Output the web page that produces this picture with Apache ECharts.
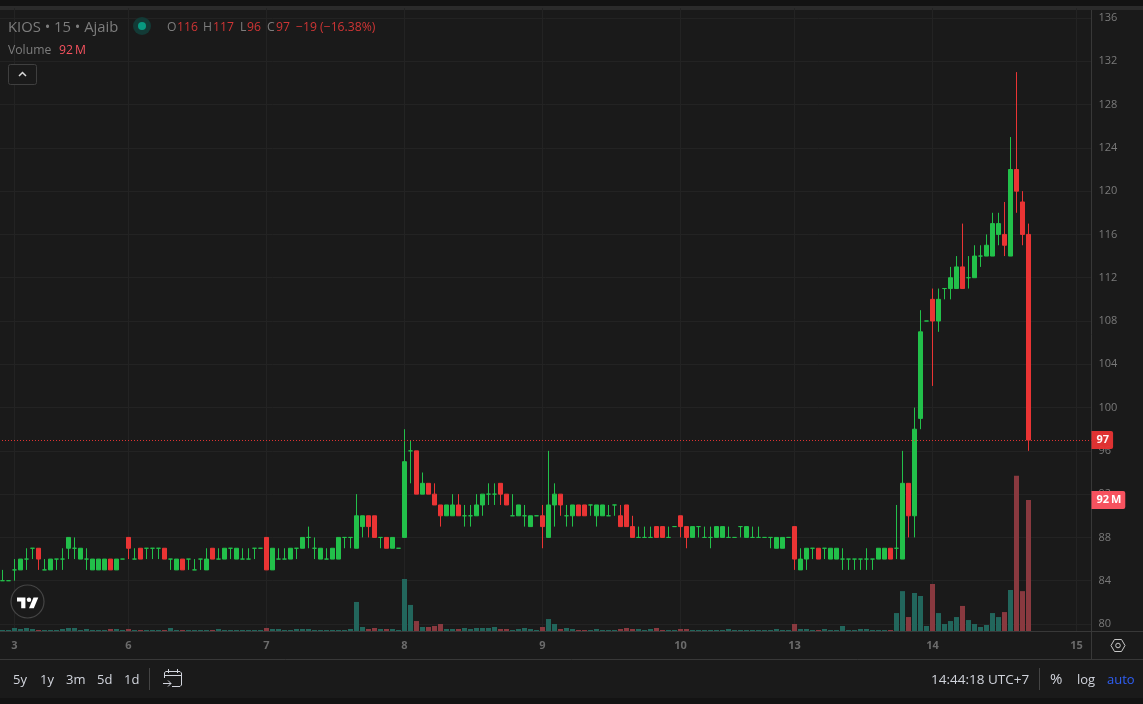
<!DOCTYPE html>
<html>
<head>
<meta charset="utf-8">
<title>KIOS 15m</title>
<style>
  html, body { margin: 0; padding: 0; background: #1a1a1a; }
  #chart { width: 1143px; height: 704px; }
</style>
<script src="https://cdn.jsdelivr.net/npm/echarts@6/dist/echarts.min.js"></script>
</head>
<body>
<div id="chart"></div>
<script>
// 15-minute bars, oldest first, ten per row
const opens = [
  84,84,85,85,86,87,87,85,85,86,
  86,87,87,86,86,85,85,85,86,85,
  86,88,86,87,87,87,87,87,86,85,
  86,86,85,86,85,87,86,86,87,86,
  86,86,87,87,88,85,86,86,86,87,
  87,88,87,86,86,86,86,88,88,87,
  89,90,90,88,88,87,87,88,96,96,
  92,93,92,91,90,90,91,90,90,90,
  91,92,92,93,92,90,90,90,89,90,
  90,88,91,92,90,90,91,91,91,90,
  90,90,91,90,91,89,88,88,88,89,
  89,88,89,90,89,88,89,88,88,88,
  88,88,88,89,88,88,88,88,88,87,
  87,88,89,85,86,87,87,87,86,86,
  86,86,86,86,86,86,86,86,87,87,
  86,93,90,99,108,110,108,111,111,111,
  113,112,112,114,114,114,116,116,114,122,119,116
];
const highs = [
  85,84,86,86,87,87,87,86,86,86,
  87,88,88,87,87,86,86,86,86,86,
  86,88,87,87,87,87,87,87,86,86,
  86,86,86,86,87,87,87,87,87,87,
  87,87,87,87,88,87,87,87,87,87,
  88,89,88,87,87,87,88,88,88,92,
  90,90,90,88,88,88,87,98,97,96,
  94,93,93,91,91,92,92,91,91,92,
  92,93,93,93,92,92,91,91,90,90,
  91,96,93,92,91,91,91,91,91,91,
  91,91,91,91,91,90,89,89,89,89,
  89,89,89,90,89,89,89,89,89,89,
  89,89,88,89,89,89,89,88,88,88,
  88,88,89,87,87,87,87,87,87,87,
  87,86,86,86,87,86,87,87,87,91,
  96,93,100,109,108,111,111,111,113,114,
  117,114,115,115,116,118,118,119,125,131,120,117
];
const lows = [
  84,84,84,85,85,86,85,85,85,85,
  85,86,86,86,85,85,85,85,85,85,
  86,86,86,86,86,86,86,86,85,85,
  85,85,85,85,85,86,86,86,86,86,
  86,86,86,87,85,85,86,86,86,86,
  87,87,86,86,86,86,86,87,87,87,
  88,88,88,87,87,87,87,88,93,92,
  92,92,91,89,90,90,90,89,89,90,
  90,91,91,91,91,90,90,89,89,90,
  87,88,89,90,89,89,90,90,90,89,
  90,90,90,89,89,88,88,88,88,88,
  88,88,89,88,87,88,88,88,87,88,
  88,88,88,88,88,88,88,88,87,87,
  87,88,85,85,85,86,86,86,86,86,
  85,85,85,85,85,85,86,86,86,86,
  86,88,88,98,108,102,107,110,110,111,
  111,111,112,113,114,114,115,114,114,118,115,96
];
const closes = [
  84,84,85,86,86,87,86,85,86,86,
  86,88,87,87,86,86,86,86,85,86,
  86,87,86,86,87,87,87,86,86,86,
  85,86,85,86,86,86,86,87,87,87,
  86,86,87,87,85,87,86,86,87,87,
  88,88,87,87,86,87,88,88,88,90,
  90,89,88,88,87,88,87,95,96,92,
  93,92,91,90,91,91,90,90,90,91,
  92,92,92,92,91,90,91,90,90,90,
  89,91,92,91,90,91,90,90,91,91,
  91,90,91,89,89,88,88,88,88,88,
  88,88,89,89,88,89,89,88,88,89,
  89,88,88,89,89,88,88,88,88,88,
  88,88,86,86,87,87,86,87,87,87,
  86,86,86,86,86,86,87,87,86,87,
  93,90,98,107,108,108,110,111,112,113,
  111,112,114,114,115,117,117,115,122,120,116,97
];
// Traded volume per bar, in millions
const volumes = [
  0.7,0.7,2.1,1.4,2.1,1.4,0.7,0.7,0.7,0.7,1.4,2.1,2.1,0.7,1.4,0.7,0.7,0.7,1.4,1.4,
  0.7,1.4,0.7,0.7,0.7,0.7,0.7,0.7,2.1,0.7,0.7,0.7,0.7,0.7,0.7,0.7,1.4,0.7,0.7,0.7,
  0.7,0.7,0.7,0.7,2.1,1.4,1.4,0.7,0.7,1.4,1.4,1.4,0.7,0.7,0.7,0.7,0.7,0.7,1.4,20.4,
  2.8,1.4,2.1,1.4,1.4,1.4,0.7,36.5,18.3,7,2.8,2.8,3.5,4.9,1.4,1.4,1.4,2.1,1.4,2.1,
  2.1,2.1,2.8,1.4,1.4,0.7,1.4,2.1,1.4,0.7,2.8,8.4,4.9,1.4,2.1,1.4,0.7,0.7,0.7,1.4,
  0.7,0.7,0.7,1.4,2.1,1.4,1.4,0.7,1.4,2.1,0.7,0.7,0.7,1.4,1.4,0.7,0.7,0.7,0.7,0.7,
  0.7,1.4,0.7,0.7,0.7,0.7,0.7,0.7,0.7,1.4,0.7,0.7,4.9,1.4,1.4,0.7,0.7,1.4,0.7,0.7,
  3.5,0.7,0.7,1.4,1.4,0.7,0.7,0.7,0.7,12.6,28,9.8,26.7,24.6,3.5,33,12.6,4.9,7,9.8,
  17.6,7.7,4.9,2.8,4.2,12.6,9.8,13.3,28.8,109,28,92
];
// Session marks on the time axis
const dayLabels = ['3', '6', '7', '8', '9', '10', '13', '14', '15'];
const dayLabelBars = [2, 21, 44, 67, 90, 113, 132, 155, 179];
const priceTicks = { min: 80, max: 136, step: 4 };
const lastPrice = 97;
const lastVolume = 92;
const BAR_SLOTS = 182;

const UP = '#22c04a', DOWN = '#ea3434';
const VOL_UP = '#22665c', VOL_DOWN = '#89393f';
const BG = '#1a1a1a', RULE = '#383838', GRID = '#232323';
const FONT = '"Open Sans", sans-serif';

const categories = Array.from({ length: BAR_SLOTS }, (_, i) => {
  const k = dayLabelBars.indexOf(i);
  return k >= 0 ? dayLabels[k] : '';
});
const isDayBar = (i) => dayLabelBars.indexOf(i) >= 0;

const candles = opens.map((o, i) => {
  const item = { value: [o, closes[i], lows[i], highs[i]] };
  // Bars that open and close level stay green whatever the previous close was
  if (o === closes[i]) {
    item.itemStyle = { color: UP, color0: UP, borderColor: UP, borderColor0: UP };
  }
  return item;
});
const volumeBars = volumes.map((v, i) => ({
  value: v,
  itemStyle: { color: closes[i] >= opens[i] ? VOL_UP : VOL_DOWN }
}));

const text = (x, y, s, fill, size, extra) => ({
  type: 'text', z: 20, silent: true,
  style: Object.assign({ x, y, text: s, fill, font: `${size || 12.2}px ${FONT}`, textVerticalAlign: 'middle' }, extra || {})
});
const rule = (x1, y1, x2, y2, color, width) => ({
  type: 'line', z: 1, silent: true,
  shape: { x1, y1, x2, y2 },
  style: { stroke: color || RULE, lineWidth: width || 1 }
});
const stroke = (points, color) => ({
  type: 'polyline', z: 21, silent: true,
  shape: { points },
  style: { stroke: color, lineWidth: 1, fill: null }
});
const solid = (points, color) => ({
  type: 'polygon', z: 21, silent: true,
  shape: { points },
  style: { fill: color }
});
const HEAD = '#7d7d7d', HEAD_RED = '#cf3535', BTN = '#d1d4dc';

const chrome = [
  // window strip above and below the pane
  { type: 'rect', z: 0, silent: true, shape: { x: 0, y: 0, width: 1143, height: 6 }, style: { fill: '#131313' } },
  { type: 'rect', z: 0, silent: true, shape: { x: 0, y: 6, width: 1143, height: 4 }, style: { fill: '#2b2b2b' } },
  { type: 'rect', z: 0, silent: true, shape: { x: 0, y: 698, width: 1143, height: 6 }, style: { fill: '#131313' } },
  rule(0, 631.5, 1143, 631.5),
  rule(0, 659.5, 1143, 659.5),
  rule(1091.5, 10, 1091.5, 659.5),

  // legend
  text(8, 28, 'KIOS • 15 • Ajaib', HEAD, 14.8),
  { type: 'circle', z: 20, silent: true, shape: { cx: 142, cy: 26, r: 9 }, style: { fill: '#133a36' } },
  { type: 'circle', z: 21, silent: true, shape: { cx: 142, cy: 26, r: 4 }, style: { fill: '#089981' } },
  text(167, 28, 'O', HEAD), text(177, 28, '116', HEAD_RED),
  text(203, 28, 'H', HEAD), text(213, 28, '117', HEAD_RED),
  text(240, 28, 'L', HEAD), text(247, 28, '96', HEAD_RED),
  text(267, 28, 'C', HEAD), text(276, 28, '97', HEAD_RED),
  text(296, 28, '−19 (−16.38%)', HEAD_RED),
  text(8, 51, 'Volume', HEAD),
  text(59, 51, '92\u2009M', '#f7525f'),
  { type: 'rect', z: 20, silent: true, shape: { x: 8.5, y: 64.5, width: 28, height: 20, r: 2 }, style: { fill: BG, stroke: '#3f3f3f' } },
  { type: 'polyline', z: 21, silent: true, shape: { points: [[19, 76], [22.5, 72.5], [26, 76]] }, style: { stroke: '#d8d8d8', lineWidth: 1.5, fill: null } },

  // logo badge
  { type: 'circle', z: 20, silent: true, shape: { cx: 27.5, cy: 601.5, r: 16.5 }, style: { fill: BG, stroke: '#454545', lineWidth: 1.2 } },
  solid([[17, 597.4], [25.4, 597.4], [25.4, 608.2], [21.2, 608.2], [21.2, 601.6], [17, 601.6]], '#ffffff'),
  solid([[29, 608.2], [33.5, 597.4], [38.3, 597.4], [33.8, 608.2]], '#ffffff'),
  { type: 'circle', z: 21, silent: true, shape: { cx: 29, cy: 599.8, r: 2.2 }, style: { fill: '#ffffff' } },

  // range buttons
  text(13, 680, '5y', BTN, 13), text(40, 680, '1y', BTN, 13), text(66, 680, '3m', BTN, 13),
  text(97, 680, '5d', BTN, 13), text(124, 680, '1d', BTN, 13),
  rule(149.5, 668, 149.5, 690, '#444444'),
  stroke([[164.5, 678], [164.5, 672.5], [166, 671.5], [180, 671.5], [181.5, 673], [181.5, 685], [180, 686.5], [172, 686.5]], BTN),
  stroke([[164.5, 675.5], [181.5, 675.5]], BTN),
  stroke([[168.5, 669], [168.5, 673]], BTN),
  stroke([[177.5, 669], [177.5, 673]], BTN),
  stroke([[163, 683.5], [171, 683.5]], BTN),
  stroke([[168, 680.5], [171, 683.5], [168, 686.5]], BTN),

  // clock and scale switches
  text(931, 680, '14:44:18 UTC+7', BTN, 13.5),
  rule(1039.5, 668, 1039.5, 690, '#444444'),
  text(1050, 680, '%', BTN, 15),
  text(1077, 680, 'log', BTN, 13),
  text(1107, 680, 'auto', '#2f5ff5', 13),

  // axis settings
  { type: 'polygon', z: 20, silent: true,
    shape: { points: [[1111, 645.5], [1114.5, 639.5], [1121.5, 639.5], [1125, 645.5], [1121.5, 651.5], [1114.5, 651.5]] },
    style: { stroke: '#c8c8c8', lineWidth: 1, fill: null } },
  { type: 'circle', z: 20, silent: true, shape: { cx: 1118, cy: 645.5, r: 2.3 }, style: { stroke: '#c8c8c8', lineWidth: 1, fill: null } }
];

const chart = echarts.init(document.getElementById('chart'), null, { renderer: 'canvas' });
chart.setOption({
  animation: false,
  backgroundColor: BG,
  textStyle: { fontFamily: FONT },
  // price pane runs between the 136 and 80 ticks; volume pane fills the full height
  grid: [
    { left: -0.5, width: 1092, top: 18, height: 606, outerBoundsMode: 'none' },
    { left: -0.5, width: 1092, top: 8, height: 623, outerBoundsMode: 'none' }
  ],
  xAxis: [
    { type: 'category', gridIndex: 0, data: categories, show: false },
    {
      type: 'category', gridIndex: 1, data: categories,
      axisLine: { show: false }, axisTick: { show: false },
      axisLabel: {
        interval: (i) => isDayBar(i),
        color: '#6b6b6b', fontSize: 11, fontWeight: 'bold', margin: 9, hideOverlap: false
      },
      splitLine: {
        show: true, alignWithLabel: true,
        interval: (i) => isDayBar(i),
        lineStyle: { color: GRID, width: 1 }
      }
    }
  ],
  yAxis: [
    {
      type: 'value', gridIndex: 0, position: 'right',
      min: priceTicks.min, max: priceTicks.max, interval: priceTicks.step,
      axisLine: { show: false }, axisTick: { show: false },
      axisLabel: { color: '#7a7a7a', fontSize: 11, margin: 7, padding: [2, 0, 0, 0] },
      splitLine: { show: true, lineStyle: { color: GRID, width: 1 } }
    },
    {
      type: 'value', gridIndex: 1, position: 'right', show: false,
      min: 0, max: 437.5, splitLine: { show: false }
    }
  ],
  series: [
    {
      type: 'bar', xAxisIndex: 1, yAxisIndex: 1, data: volumeBars,
      barWidth: 5, silent: true, z: 2,
      markLine: {
        silent: true, symbol: 'none', animation: false,
        lineStyle: { color: 'rgba(0,0,0,0)', width: 0 },
        label: {
          position: 'end', formatter: () => lastVolume + '\u2009M', distance: 0,
          color: '#ffffff', fontSize: 11, fontWeight: 'bold',
          backgroundColor: '#f7525f', padding: [4, 4, 3, 5], borderRadius: [0, 2, 2, 0]
        },
        data: [{ yAxis: lastVolume }]
      }
    },
    {
      type: 'candlestick', xAxisIndex: 0, yAxisIndex: 0, data: candles,
      barWidth: 4, silent: true, z: 3,
      itemStyle: { color: UP, color0: DOWN, borderColor: UP, borderColor0: DOWN, borderWidth: 1, borderJoin: 'miter' },
      markLine: {
        silent: true, symbol: 'none', animation: false,
        lineStyle: { color: '#ea3434', type: [1, 2], dashOffset: 0.5, width: 1, opacity: 0.95 },
        label: {
          position: 'end', formatter: () => String(lastPrice), distance: 0,
          color: '#ffffff', fontSize: 11, fontWeight: 'bold',
          backgroundColor: '#ea3434', padding: [4, 4, 3, 5], borderRadius: [0, 2, 2, 0]
        },
        data: [{ yAxis: lastPrice }]
      }
    }
  ],
  graphic: chrome
});
</script>
</body>
</html>
